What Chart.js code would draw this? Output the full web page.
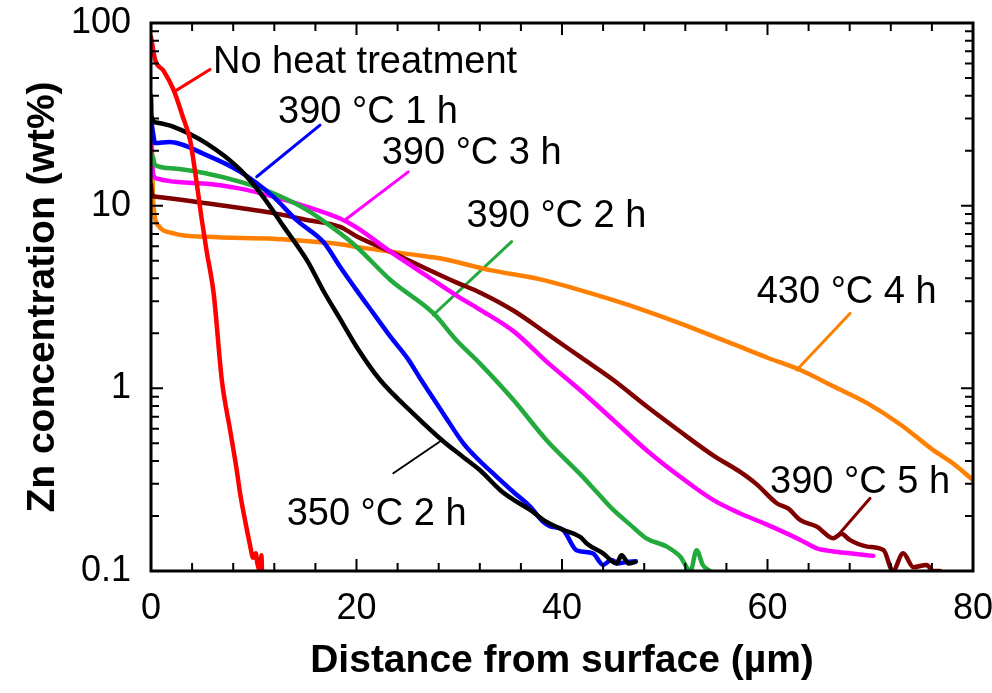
<!DOCTYPE html>
<html lang="en">
<head>
<meta charset="UTF-8">
<title>Zn concentration depth profiles</title>
<script src="https://cdn.jsdelivr.net/npm/chart.js"></script>
<style>
  html, body { margin: 0; padding: 0; background: #fff; }
  #wrap { width: 992px; height: 693px; }
</style>
</head>
<body>
<div id="wrap"><canvas id="zincChart" width="992" height="693"></canvas></div>
<script>
// depth profiles (x in µm, y in wt%)
const noHeatX = [0, 0.4, 1.2, 2.2, 3.1, 3.8, 4.45, 4.9, 5.4, 6.1, 6.9, 7.7, 8.3, 8.7, 9.15, 9.6, 9.95, 10.2, 10.35, 10.6, 10.75, 10.8];
const noHeatY = [84, 63, 55, 43, 30.6, 22.9, 13.3, 8.7, 5.7, 3.3, 1.1, 0.59, 0.37, 0.26, 0.19, 0.142, 0.118, 0.125, 0.11, 0.1, 0.122, 0.1];

const t350h2X = [0, 0.05, 0.5, 2.2, 5.4, 8.7, 10.9, 12.9, 15.2, 16.8, 18.4, 20.0, 22.3, 25.5, 28.5, 30.4, 32.0, 34.0, 35.3, 36.9, 38.2, 40.1, 41.75, 42.5, 44.0, 45.3, 45.8, 46.5, 47.1];
const t350h2Y = [40, 31, 28.5, 27, 21.9, 15.7, 11.2, 7.7, 5.0, 3.4, 2.4, 1.69, 1.11, 0.73, 0.51, 0.42, 0.357, 0.277, 0.245, 0.216, 0.19, 0.168, 0.154, 0.14, 0.125, 0.11, 0.122, 0.11, 0.112];

const t390h1X = [0, 0.2, 0.4, 1.8, 5.4, 8.7, 11.9, 14.2, 16.8, 18.4, 20.0, 21.7, 23.3, 25.0, 26.3, 28.5, 30.4, 32.0, 33.6, 35.3, 36.9, 38.2, 38.8, 40.1, 41.4, 43.0, 44.0, 44.8, 45.5, 46.3, 47.2];
const t390h1Y = [30, 25, 22, 22.3, 18.9, 15.3, 11.2, 8.3, 6.3, 4.63, 3.45, 2.55, 1.92, 1.45, 1.11, 0.72, 0.5, 0.4, 0.33, 0.27, 0.225, 0.185, 0.176, 0.168, 0.13, 0.125, 0.108, 0.115, 0.11, 0.112, 0.113];

const t390h2X = [0, 0.1, 0.4, 2.2, 5.4, 8.7, 11.9, 15.2, 18.4, 20.0, 23.3, 27.5, 29.7, 32.0, 35.3, 38.5, 41.75, 43.4, 45.0, 46.6, 48.2, 50.2, 51.5, 52.5, 53.1, 53.7, 54.4];
const t390h2Y = [17, 19, 16.7, 16.0, 15.0, 13.5, 11.7, 9.46, 7.06, 5.96, 3.92, 2.57, 1.84, 1.37, 0.86, 0.52, 0.34, 0.27, 0.216, 0.18, 0.151, 0.136, 0.12, 0.1, 0.13, 0.108, 0.1];

const t390h3X = [0, 0.2, 0.5, 5.4, 8.7, 11.9, 15.2, 18.4, 20.0, 23.3, 26.5, 29.7, 32.0, 35.3, 38.5, 41.75, 45.0, 48.2, 51.5, 54.7, 57.3, 59.9, 63.2, 64.8, 66.4, 68.0, 69.7, 70.3];
const t390h3Y = [22, 15, 14.1, 13.2, 12.4, 11.2, 9.86, 8.5, 7.6, 5.6, 4.25, 3.23, 2.7, 2.05, 1.4, 0.98, 0.67, 0.46, 0.328, 0.245, 0.207, 0.18, 0.148, 0.133, 0.128, 0.125, 0.122, 0.121];

const t390h5X = [0, 0.1, 0.5, 5.4, 8.7, 11.9, 15.2, 18.4, 20.0, 23.3, 26.5, 29.7, 32.0, 35.3, 38.5, 41.75, 45.0, 48.2, 51.5, 54.7, 57.3, 58.9, 60.9, 62.0, 63.2, 64.8, 66.4, 67.2, 68.0, 69.7, 71.3, 72.2, 73.2, 74.2, 75.5, 76.1, 76.8];
const t390h5Y = [13, 11.5, 11.2, 10.3, 9.7, 9.1, 8.34, 7.66, 6.8, 5.6, 4.6, 3.8, 3.35, 2.66, 2.0, 1.49, 1.11, 0.8, 0.58, 0.43, 0.35, 0.30, 0.235, 0.22, 0.19, 0.175, 0.151, 0.16, 0.148, 0.136, 0.13, 0.1, 0.125, 0.105, 0.108, 0.1, 0.1];

const t430h4X = [0, 0.1, 0.2, 0.7, 2.2, 5.4, 11.9, 13.5, 18.4, 20.0, 26.5, 28.1, 33.0, 37.9, 41.0, 45.0, 48.2, 51.5, 54.5, 57.3, 60.0, 63.2, 66.5, 69.7, 73.0, 76.1, 78.0, 80];
const t430h4Y = [29.5, 20, 10.7, 7.8, 7.06, 6.75, 6.6, 6.5, 6.15, 5.95, 5.3, 5.15, 4.44, 3.95, 3.55, 3.04, 2.65, 2.27, 1.95, 1.69, 1.47, 1.26, 1.02, 0.83, 0.63, 0.46, 0.39, 0.315];

// callout labels and their leader lines (data coordinates)
const labelTexts = ['No heat treatment', '390 °C 1 h', '390 °C 3 h', '390 °C 2 h', '430 °C 4 h', '390 °C 5 h', '350 °C 2 h'];
const labelX = [6.03, 12.36, 22.45, 30.7, 58.95, 60.25, 13.2];
const labelY = [53.2, 28.3, 17.0, 7.66, 2.92, 0.266, 0.178];
const leaderColors = ['#ff0000', '#0000ff', '#ff00ff', '#22aa3c', '#ff8000', '#800000', '#000000'];
const leaderX1 = [5.74, 16.45, 25.04, 35.1, 68.03, 69.98, 28.3];
const leaderY1 = [55.7, 27.6, 15.3, 6.35, 2.57, 0.25, 0.52];
const leaderX2 = [2.5, 10.29, 18.88, 27.47, 62.84, 66.74, 23.58];
const leaderY2 = [42.9, 14.4, 8.34, 2.52, 1.26, 0.154, 0.343];

const xTickLabels = ['0', '20', '40', '60', '80'];
const yTickValues = [0.1, 1, 10, 100];
const yTickLabels = ['0.1', '1', '10', '100'];

const FONT = 'Arial, "Liberation Sans", sans-serif';

function pts(xs, ys) {
    return xs.map((x, i) => ({ x: x, y: ys[i] }));
}

const series = [
    { label: 'No heat treatment', data: pts(noHeatX, noHeatY), borderColor: '#ff0000' },
    { label: '350 °C 2 h', data: pts(t350h2X, t350h2Y), borderColor: '#000000' },
    { label: '390 °C 1 h', data: pts(t390h1X, t390h1Y), borderColor: '#0000ff' },
    { label: '390 °C 2 h', data: pts(t390h2X, t390h2Y), borderColor: '#22aa3c' },
    { label: '390 °C 3 h', data: pts(t390h3X, t390h3Y), borderColor: '#ff00ff' },
    { label: '390 °C 5 h', data: pts(t390h5X, t390h5Y), borderColor: '#800000' },
    { label: '430 °C 4 h', data: pts(t430h4X, t430h4Y), borderColor: '#ff8000' }
].map(s => Object.assign(s, { cubicInterpolationMode: 'monotone', borderWidth: 4.5 }));

const leaders = leaderColors.map((c, i) => ({
    label: 'leader ' + i,
    data: [{ x: leaderX1[i], y: leaderY1[i] }, { x: leaderX2[i], y: leaderY2[i] }],
    borderColor: c,
    borderWidth: c === '#000000' ? 2 : 3
}));

// inward ticks, frame and callout texts
const framePlugin = {
    id: 'frame',
    afterDatasetsDraw(chart) {
        const { ctx, chartArea: a, scales: { x, y } } = chart;
        ctx.save();
        ctx.strokeStyle = '#000';
        ctx.lineWidth = 2;
        ctx.beginPath();
        for (let v = 0; v <= 80; v += 4) {
            const px = x.getPixelForValue(v);
            const len = v % 20 === 0 ? 12 : 8;
            ctx.moveTo(px, a.bottom); ctx.lineTo(px, a.bottom - len);
            ctx.moveTo(px, a.top); ctx.lineTo(px, a.top + len);
        }
        for (let k = -1; k <= 1; k++) {
            for (let m = 1; m <= 9; m++) {
                const py = y.getPixelForValue(m * Math.pow(10, k));
                const len = m === 1 ? 12 : 8;
                ctx.moveTo(a.left, py); ctx.lineTo(a.left + len, py);
                ctx.moveTo(a.right, py); ctx.lineTo(a.right - len, py);
            }
        }
        ctx.stroke();
        ctx.lineWidth = 3;
        ctx.strokeRect(a.left, a.top, a.right - a.left, a.bottom - a.top);

        ctx.fillStyle = '#000';
        ctx.font = '38px ' + FONT;
        ctx.textBaseline = 'alphabetic';
        ctx.textAlign = 'left';
        labelTexts.forEach((t, i) => {
            ctx.fillText(t, x.getPixelForValue(labelX[i]), y.getPixelForValue(labelY[i]));
        });
        ctx.restore();
    }
};

new Chart(document.getElementById('zincChart'), {
    type: 'line',
    data: { datasets: series.concat(leaders) },
    options: {
        responsive: false,
        animation: false,
        layout: { padding: { left: 0, top: 23, right: 19, bottom: 0 } },
        plugins: { legend: { display: false }, tooltip: { enabled: false } },
        elements: {
            point: { radius: 0 },
            line: { tension: 0, borderWidth: 4, borderJoinStyle: 'round', borderCapStyle: 'round', fill: false }
        },
        scales: {
            x: {
                type: 'linear', min: 0, max: 80,
                grid: { display: false, drawTicks: false },
                border: { display: false },
                ticks: {
                    stepSize: 20, maxRotation: 0, padding: 16, color: '#000',
                    font: { family: FONT, size: 36 },
                    callback: (v) => xTickLabels[v / 20]
                },
                title: {
                    display: true, text: 'Distance from surface (µm)', color: '#000',
                    font: { family: FONT, size: 39, weight: 'bold', lineHeight: 1 },
                    padding: { top: 0, bottom: 12 }
                },
                afterFit(s) { s.height = 122; s.paddingLeft = 0; s.paddingRight = 0; }
            },
            y: {
                type: 'logarithmic', min: 0.1, max: 100,
                grid: { display: false, drawTicks: false },
                border: { display: false },
                afterBuildTicks(s) { s.ticks = yTickValues.map(v => ({ value: v })); },
                ticks: {
                    padding: 20, color: '#000',
                    font: { family: FONT, size: 36 },
                    callback: (v) => yTickLabels[yTickValues.indexOf(v)] ?? ''
                },
                title: {
                    display: true, text: 'Zn concentration (wt%)', color: '#000',
                    font: { family: FONT, size: 39, weight: 'bold', lineHeight: 1 },
                    padding: { top: 24, bottom: 0 }
                },
                afterFit(s) { s.width = 151; s.paddingTop = 0; s.paddingBottom = 0; }
            }
        }
    },
    plugins: [framePlugin]
});
</script>
</body>
</html>
